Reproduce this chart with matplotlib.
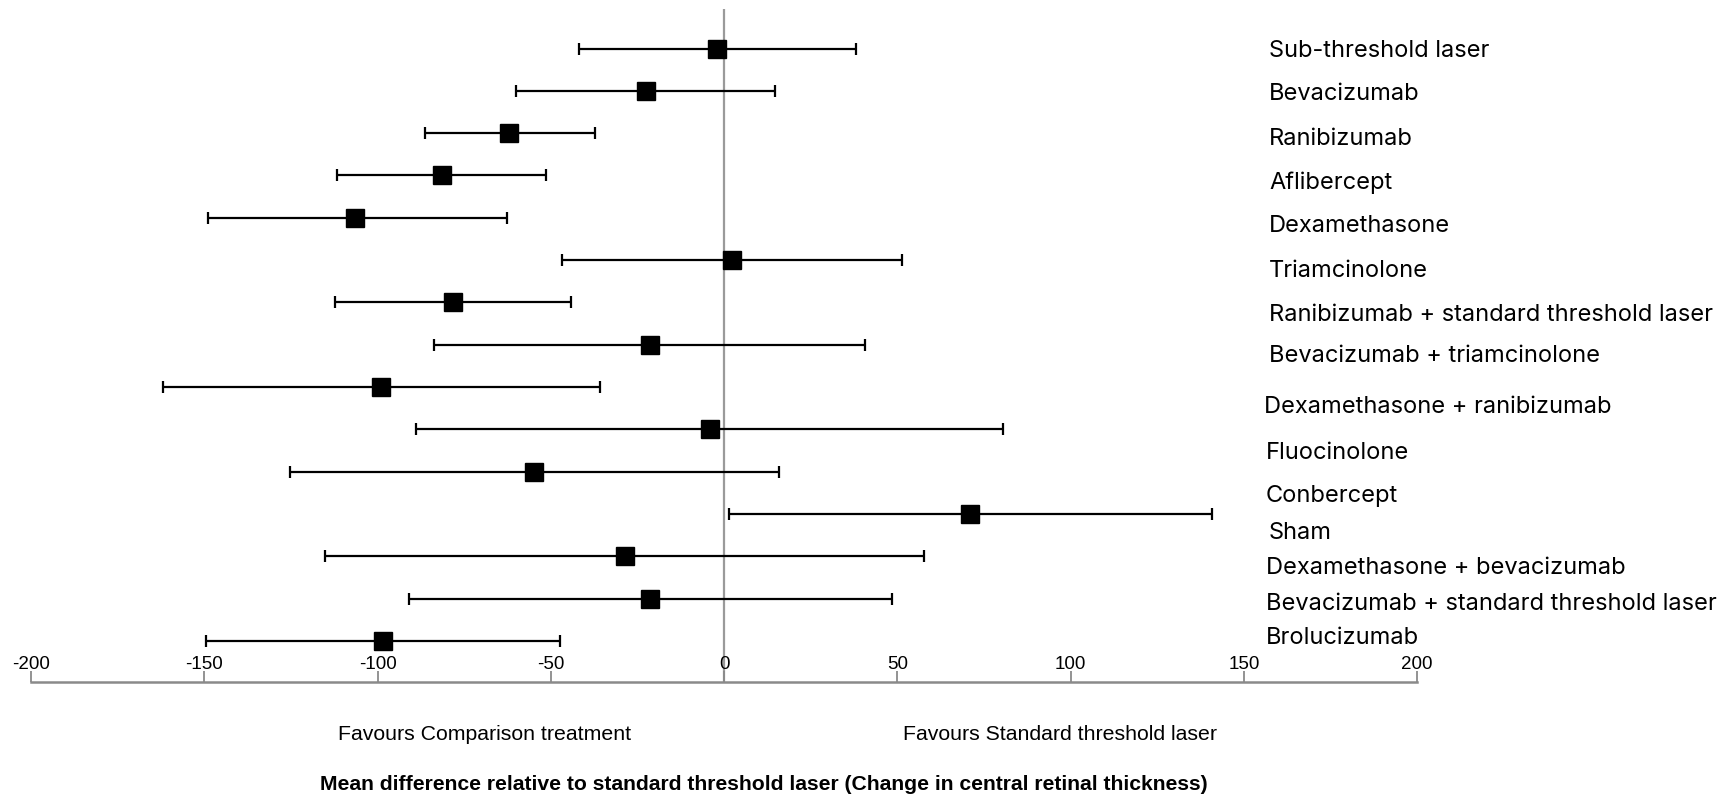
import numpy as np
import matplotlib.pyplot as plt

plt.rcParams['axes.unicode_minus'] = False
plt.rcParams['font.family'] = ['Liberation Sans', 'DejaVu Sans']

# Mean difference vs standard threshold laser (change in central retinal thickness)
treatments = ['Sub-threshold laser', 'Bevacizumab', 'Ranibizumab', 'Aflibercept',
              'Dexamethasone', 'Triamcinolone', 'Ranibizumab + standard threshold laser',
              'Bevacizumab + triamcinolone', 'Dexamethasone + ranibizumab', 'Fluocinolone',
              'Conbercept', 'Sham', 'Dexamethasone + bevacizumab',
              'Bevacizumab + standard threshold laser', 'Brolucizumab']
mean_diff = [-2.0, -22.6, -62.0, -81.5, -106.4, 2.2, -78.3, -21.3, -99.0, -4.1,
             -54.8, 71.0, -28.7, -21.3, -98.5]
ci_low = [-42.0, -60.0, -86.3, -111.8, -149.0, -46.8, -112.4, -83.8, -162.0, -89.0,
          -125.2, 1.3, -115.2, -91.0, -149.6]
ci_high = [38.0, 14.6, -37.3, -51.3, -62.7, 51.3, -44.3, 40.8, -35.8, 80.6,
           15.9, 140.8, 57.6, 48.4, -47.2]
xticks = [-200, -150, -100, -50, 0, 50, 100, 150, 200]

# label placement (text box in the original is not aligned to rows)
label_y = [0.05, 1.07, 2.14, 3.16, 4.2, 5.25, 6.29, 7.26, 8.46, 9.56, 10.57, 11.44, 12.27, 13.13, 13.92]
label_x = [157.3] * 8 + [155.7, 156.4, 156.4, 157.3, 156.4, 156.4, 156.4]

fig = plt.figure(figsize=(17.33, 7.97), dpi=100)
ax = fig.add_axes([0.0179, 0.1443, 0.7998, 0.8447])

y = np.arange(len(treatments))
mean_diff = np.array(mean_diff)
err = [mean_diff - np.array(ci_low), np.array(ci_high) - mean_diff]

ax.axvline(0, color='#9a9a9a', lw=1.6, zorder=1)
ax.errorbar(mean_diff, y, xerr=err, fmt='s', color='black', ecolor='black',
            markersize=12.5, elinewidth=1.6, capsize=4.3, capthick=1.6, zorder=3)

for lx, ly, name in zip(label_x, label_y, treatments):
    ax.text(lx, ly, name, fontsize=17, family=['Inter', 'DejaVu Sans'],
            va='center', ha='left', clip_on=False)

ax.set_xlim(-200, 200)
ax.set_ylim(14.97, -0.94)
ax.set_yticks([])
ax.set_xticks(xticks)
ax.set_xticklabels([str(t) for t in xticks], fontsize=13.5)
ax.tick_params(axis='x', direction='in', length=8, width=1.3, color='#8a8a8a', pad=-18.5)
for s in ['top', 'left', 'right']:
    ax.spines[s].set_visible(False)
ax.spines['bottom'].set_color('#8a8a8a')
ax.spines['bottom'].set_linewidth(1.8)

xt = ax.get_xaxis_transform()
ax.text(-69, -0.0785, 'Favours Comparison treatment', transform=xt,
        fontsize=15.3, ha='center', va='center')
ax.text(97, -0.0785, 'Favours Standard threshold laser', transform=xt,
        fontsize=15.3, ha='center', va='center')
ax.text(11.5, -0.152, 'Mean difference relative to standard threshold laser (Change in central retinal thickness)',
        transform=xt, fontsize=15.2, fontweight='bold', ha='center', va='center')

fig.savefig('out.png', dpi=100)
